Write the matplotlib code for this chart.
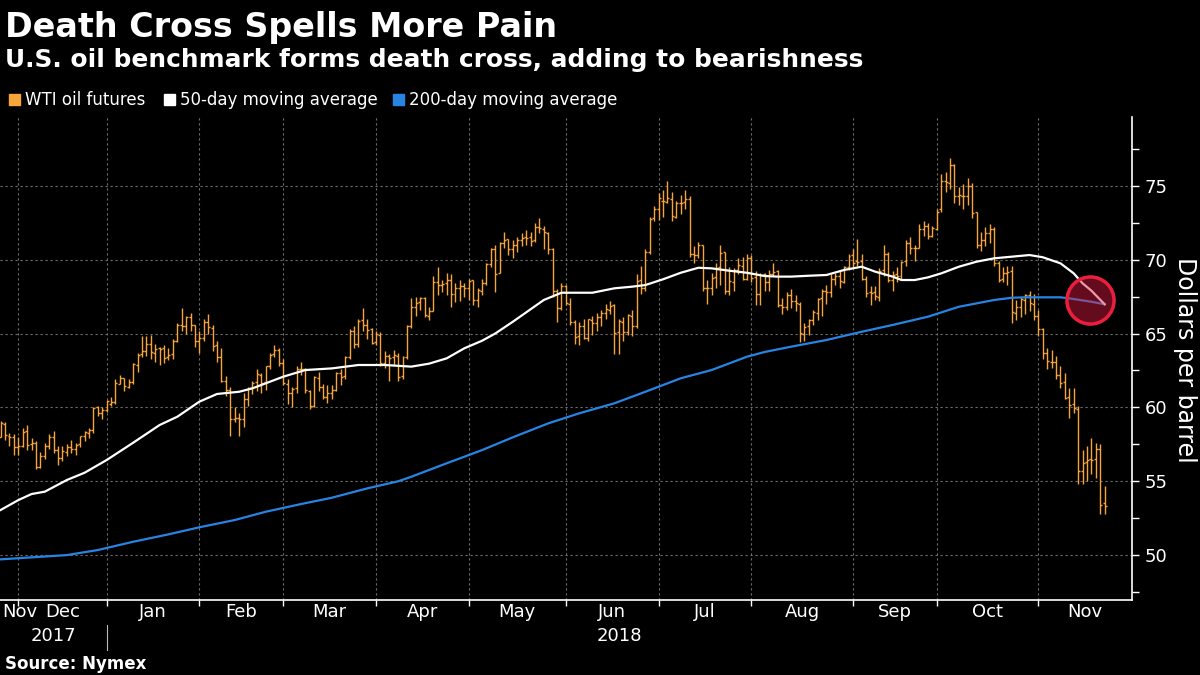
import numpy as np
import matplotlib
matplotlib.use('Agg')
from matplotlib import pyplot as plt
from matplotlib import transforms
from matplotlib.patches import Rectangle
from matplotlib.lines import Line2D
from matplotlib.ticker import MultipleLocator

# --- axis calendar: trading days per month shown (Nov 2017 starts on the 24th)
month_names = ['Nov', 'Dec', 'Jan', 'Feb', 'Mar', 'Apr', 'May', 'Jun',
               'Jul', 'Aug', 'Sep', 'Oct', 'Nov']
month_days = [5, 20, 21, 19, 21, 21, 22, 21, 21, 23, 19, 23, 21]
year_names = ['2017', '2018']

# --- WTI daily bars, one entry per trading day (Nov 24 2017 .. Nov 21 2018)
opens = [
    58.0, 58.9, 58.1, 58.0, 57.3,
    57.4, 58.4, 57.5, 57.6, 56.0, 56.7, 57.4, 58.0, 57.1, 56.6, 57.0, 57.3, 57.2, 57.5, 58.1, 58.3, 58.5, 60.0, 59.6, 59.8,
    60.2, 60.4, 61.6, 62.0, 61.4, 61.7, 62.9, 63.6, 63.8, 64.3, 63.7, 64.0, 64.0, 63.4, 63.6, 64.5, 65.6, 65.5, 66.1, 65.6, 64.5,
    64.7, 65.8, 65.4, 64.2, 63.4, 61.8, 61.2, 59.2, 59.3, 59.2, 60.6, 61.3, 61.7, 62.2, 61.7, 62.8, 63.6, 63.9, 63.0,
    61.6, 61.0, 61.3, 62.6, 62.6, 61.1, 60.1, 62.0, 61.4, 60.7, 61.0, 61.2, 62.3, 62.1, 63.4, 65.2, 64.3, 65.9, 65.6, 65.3, 64.4,
    64.9, 63.0, 63.5, 63.4, 63.5, 62.1, 63.4, 65.5, 66.8, 67.1, 67.4, 66.2, 66.5, 68.5, 68.3, 68.4, 68.6, 67.7, 68.1, 68.2, 68.1,
    68.6, 67.3, 67.9, 68.4, 69.7, 70.7, 69.1, 71.1, 71.4, 70.7, 71.0, 71.3, 71.5, 71.5, 71.3, 72.2, 72.1, 71.8, 70.7, 67.9, 66.7, 68.2,
    67.0, 65.8, 64.8, 65.5, 64.7, 65.9, 65.7, 66.1, 66.4, 66.6, 66.9, 65.1, 65.8, 65.1, 66.2, 65.5, 68.6, 68.1, 70.5, 72.8, 73.4,
    74.0, 73.9, 74.1, 72.9, 73.8, 73.9, 74.1, 70.4, 70.3, 71.0, 68.1, 68.1, 68.8, 69.5, 70.5, 67.9, 68.5, 69.3, 69.6, 68.7, 70.1,
    68.8, 67.7, 69.0, 68.5, 69.0, 69.2, 66.9, 66.8, 67.6, 67.2, 67.0, 65.0, 65.5, 65.9, 66.4, 67.4, 67.9, 67.8, 68.7, 68.9, 68.5, 69.5, 70.3,
    69.9, 69.9, 68.7, 67.8, 67.8, 67.5, 69.3, 70.4, 68.6, 69.0, 68.9, 69.9, 71.1, 70.8, 70.8, 72.1, 72.3, 71.6, 72.1,
    73.4, 75.3, 75.2, 76.4, 74.3, 74.3, 74.3, 75.0, 73.2, 71.0, 71.3, 71.8, 72.1, 69.8, 68.7, 69.1, 69.2, 66.4, 66.8, 67.3, 67.6, 67.0, 66.2,
    65.3, 63.7, 63.1, 63.1, 62.2, 61.7, 60.7, 60.2, 59.9, 55.7, 56.3, 56.5, 56.5, 57.2, 53.5,
]
highs = [
    59.05, 59.0, 58.3, 58.2, 58.0,
    58.6, 58.8, 57.9, 57.7, 57.0, 57.6, 58.2, 58.4, 57.4, 57.4, 57.5, 57.8, 57.6, 58.1, 58.4, 58.6, 60.0, 60.1, 60.0, 60.5,
    60.7, 61.9, 62.2, 62.0, 61.9, 63.0, 63.7, 64.8, 64.8, 64.9, 64.3, 64.1, 64.2, 64.0, 64.6, 65.7, 66.7, 66.2, 66.4, 65.6, 65.2,
    66.0, 66.3, 65.6, 64.5, 64.0, 62.1, 61.4, 60.0, 59.6, 61.0, 61.4, 61.8, 62.6, 62.3, 62.8, 63.7, 64.2, 64.0, 63.3,
    61.9, 61.4, 62.8, 63.1, 62.7, 61.2, 62.1, 62.4, 61.6, 61.5, 61.5, 62.4, 62.6, 63.5, 65.3, 65.5, 66.0, 66.7, 66.0, 65.4, 65.2,
    65.1, 63.8, 63.6, 63.9, 63.7, 63.5, 65.6, 67.4, 67.5, 67.5, 67.5, 66.8, 68.9, 69.5, 68.6, 69.1, 69.0, 68.4, 68.6, 68.4, 68.7,
    68.6, 68.1, 68.7, 69.8, 70.8, 71.0, 71.2, 71.9, 71.4, 71.3, 71.5, 71.8, 72.0, 71.9, 72.5, 72.8, 72.3, 71.9, 70.8, 68.0, 68.4, 68.3,
    67.4, 65.9, 65.8, 66.0, 66.0, 66.2, 66.4, 66.6, 67.0, 67.2, 67.0, 66.0, 66.1, 66.3, 66.6, 69.0, 69.6, 70.7, 72.9, 73.6, 74.5,
    74.7, 75.3, 74.6, 74.0, 74.4, 74.7, 74.3, 70.9, 71.2, 71.0, 68.6, 69.1, 69.8, 71.0, 70.5, 69.5, 69.4, 70.1, 70.2, 70.4, 70.3,
    69.2, 69.1, 69.1, 69.3, 69.8, 69.3, 67.4, 67.8, 68.0, 67.6, 67.1, 65.7, 66.0, 66.6, 67.4, 68.0, 68.3, 69.0, 69.1, 69.2, 69.6, 70.4, 70.7,
    71.4, 70.4, 68.9, 68.2, 68.2, 69.4, 71.0, 70.5, 69.2, 69.5, 69.9, 71.3, 71.5, 71.0, 72.4, 72.6, 72.5, 72.3, 73.4,
    75.8, 75.9, 76.9, 76.5, 74.9, 75.1, 75.5, 75.2, 73.2, 71.9, 72.2, 72.4, 72.2, 69.9, 69.5, 69.6, 69.6, 67.3, 67.5, 67.7, 67.9, 67.7, 66.6,
    65.4, 64.0, 63.9, 63.5, 62.8, 62.3, 61.3, 61.3, 60.1, 57.1, 57.4, 57.9, 57.6, 57.5, 54.7,
]
lows = [
    58.0, 57.8, 57.4, 56.8, 56.8,
    57.3, 57.1, 57.1, 55.8, 55.9, 56.5, 57.2, 56.9, 56.1, 56.4, 56.7, 56.9, 56.8, 57.3, 57.7, 57.9, 58.3, 59.4, 59.2, 59.7,
    60.1, 60.2, 61.6, 61.1, 61.3, 61.6, 62.4, 63.4, 63.5, 63.3, 63.1, 62.9, 63.0, 63.2, 63.3, 64.4, 65.2, 65.0, 65.2, 64.1, 63.7,
    64.5, 65.0, 63.8, 63.1, 61.7, 60.8, 58.07, 59.0, 58.07, 58.7, 60.1, 60.9, 61.1, 61.0, 61.2, 62.6, 63.4, 62.8, 61.5,
    60.2, 60.0, 61.0, 62.2, 61.0, 59.9, 60.0, 61.1, 60.6, 60.3, 60.6, 61.1, 61.5, 61.9, 63.3, 64.0, 64.1, 65.2, 64.6, 64.3, 64.2,
    62.8, 62.7, 61.8, 62.9, 61.8, 61.9, 63.3, 65.4, 66.2, 66.6, 66.1, 65.9, 66.5, 67.6, 67.8, 67.6, 66.8, 67.1, 67.2, 67.5, 67.3,
    66.9, 66.8, 67.6, 68.3, 69.5, 67.8, 69.1, 70.8, 70.3, 70.1, 70.5, 70.9, 71.0, 70.9, 71.2, 71.8, 70.7, 70.4, 67.5, 65.8, 66.6, 66.9,
    65.6, 64.3, 64.2, 64.6, 64.5, 64.9, 65.2, 65.5, 66.0, 66.3, 63.6, 63.6, 64.5, 64.9, 64.8, 65.4, 67.7, 67.9, 70.4, 72.6, 72.7,
    72.9, 73.8, 72.6, 72.8, 73.1, 73.4, 70.2, 69.8, 70.1, 67.9, 67.0, 67.6, 68.1, 68.3, 67.7, 67.6, 67.9, 69.0, 68.6, 68.6, 68.5,
    66.9, 66.9, 67.9, 67.9, 68.9, 66.8, 66.3, 66.6, 66.7, 66.5, 64.4, 64.5, 64.9, 65.6, 65.9, 66.2, 67.0, 67.5, 68.3, 68.1, 68.4, 69.3, 69.5,
    69.6, 68.6, 67.5, 66.9, 67.3, 67.2, 68.9, 68.5, 67.9, 68.5, 68.6, 69.6, 70.4, 69.9, 70.8, 71.6, 71.4, 71.5, 72.0,
    73.2, 74.6, 74.8, 73.8, 73.7, 73.4, 73.7, 72.8, 70.8, 70.6, 70.9, 71.1, 69.6, 68.5, 68.5, 68.3, 65.7, 65.9, 66.1, 66.3, 66.5, 65.9, 64.8,
    63.3, 62.6, 62.7, 61.9, 61.3, 60.6, 59.3, 59.6, 54.8, 54.8, 55.0, 55.5, 55.2, 52.8, 52.8,
]
closes = [
    58.95, 58.11, 57.99, 57.30, 57.40,
    58.36, 57.47, 57.62, 55.96, 56.69, 57.36, 57.99, 57.14, 56.60, 57.04, 57.30, 57.16, 57.46, 58.09, 58.36, 58.47, 59.97, 59.64, 59.84, 60.42,
    60.37, 61.63, 62.01, 61.44, 61.73, 62.96, 63.57, 63.80, 64.30, 63.73, 63.97, 63.95, 63.37, 63.57, 64.47, 65.61, 65.51, 66.14, 65.56, 64.50, 64.73,
    65.80, 65.45, 64.15, 63.39, 61.79, 61.15, 59.20, 59.29, 59.19, 60.60, 61.34, 61.68, 62.23, 61.68, 62.77, 63.55, 63.91, 63.01, 61.64,
    60.99, 61.25, 62.57, 62.60, 61.15, 60.12, 62.04, 61.36, 60.71, 60.96, 61.19, 62.34, 62.06, 63.40, 65.17, 64.30, 65.88, 65.55, 65.25, 64.38, 64.94,
    63.01, 63.51, 63.37, 63.54, 62.06, 63.42, 65.51, 66.82, 67.07, 67.39, 66.22, 66.52, 68.47, 68.29, 68.38, 68.64, 67.70, 68.05, 68.19, 68.10, 68.57,
    67.25, 67.93, 68.43, 69.72, 70.73, 69.06, 71.14, 71.36, 70.70, 70.96, 71.31, 71.49, 71.49, 71.28, 72.24, 72.13, 71.84, 70.71, 67.88, 66.73, 68.21, 67.04,
    65.81, 64.75, 65.52, 64.73, 65.95, 65.74, 66.10, 66.36, 66.64, 66.89, 65.06, 65.85, 65.07, 66.22, 65.54, 68.58, 68.08, 70.53, 72.76, 73.45, 74.15,
    73.94, 74.14, 72.94, 73.80, 73.85, 74.11, 70.38, 70.33, 71.01, 68.06, 68.08, 68.76, 69.46, 70.46, 67.89, 68.52, 69.30, 69.61, 68.69, 70.13, 68.76,
    67.66, 68.96, 68.49, 69.01, 69.17, 66.94, 66.81, 67.63, 67.20, 67.04, 65.01, 65.46, 65.91, 66.43, 67.35, 67.86, 67.83, 68.72, 68.87, 68.53, 69.51, 70.25, 69.80,
    69.87, 68.72, 67.77, 67.75, 67.54, 69.25, 70.37, 68.59, 68.99, 68.91, 69.85, 71.12, 70.80, 70.78, 72.08, 72.28, 71.57, 72.12, 73.25,
    75.30, 75.23, 76.41, 74.33, 74.34, 74.29, 74.96, 73.17, 70.97, 71.34, 71.78, 72.09, 69.75, 68.65, 69.12, 69.17, 66.43, 66.82, 67.33, 67.59, 67.04, 66.18, 65.31,
    63.69, 63.14, 63.10, 62.21, 61.67, 60.67, 60.19, 59.93, 55.69, 56.25, 56.46, 56.46, 57.20, 53.43, 53.35,
]

# --- moving averages (trading-day index, value)
ma50_day = [0, 4, 7, 10, 15, 19, 24, 30, 36, 40, 45, 49, 54, 57, 64, 69, 75, 81, 87, 93,
            97, 101, 105, 109, 112, 116, 120, 123, 127, 134, 139, 143, 146, 150, 154, 158,
            161, 165, 169, 173, 176, 179, 183, 187, 191, 195, 198, 202, 204, 207, 210, 213,
            217, 221, 225, 229, 233, 236, 240, 243, 245, 247, 250]
ma50_val = [53.06, 53.73, 54.14, 54.30, 55.09, 55.58, 56.44, 57.61, 58.81, 59.37, 60.39, 60.91,
            61.06, 61.29, 62.08, 62.53, 62.64, 62.87, 62.87, 62.76, 62.96, 63.32, 64.00, 64.51,
            65.00, 65.80, 66.64, 67.27, 67.76, 67.76, 68.06, 68.17, 68.28, 68.67, 69.11, 69.45,
            69.41, 69.25, 69.11, 68.89, 68.85, 68.85, 68.91, 68.96, 69.30, 69.52, 69.19, 68.85,
            68.62, 68.62, 68.80, 69.07, 69.52, 69.86, 70.09, 70.20, 70.31, 70.16, 69.75, 69.07,
            68.40, 67.90, 66.98]
ma200_day = [0, 15, 22, 30, 38, 45, 53, 60, 68, 75, 83, 90, 93, 101, 109, 116, 124, 131, 139,
             146, 154, 161, 169, 173, 179, 187, 195, 202, 210, 217, 225, 229, 232, 240, 242, 247, 250]
ma200_val = [49.72, 50.01, 50.35, 50.91, 51.41, 51.89, 52.38, 52.94, 53.46, 53.89, 54.52, 55.00,
             55.31, 56.22, 57.11, 57.98, 58.92, 59.60, 60.28, 61.06, 61.97, 62.53, 63.43, 63.75,
             64.11, 64.56, 65.12, 65.58, 66.14, 66.81, 67.27, 67.42, 67.45, 67.45, 67.38, 67.15, 66.98]

# where the 50-day crosses below the 200-day
cross_day = 246.7
cross_price = 67.27

ORANGE = '#f7a53b'
BLUE = '#2784e3'
GRID = '#6e6e6e'
W, H = 1200, 675

fig = plt.figure(figsize=(12, 6.75), dpi=100, facecolor='black')
ax = fig.add_axes([0, 1 - 600 / H, 1132 / W, (600 - 117) / H])
ax.set_facecolor('black')

x = np.arange(len(closes))
ax.vlines(x, lows, highs, color=ORANGE, lw=1.0, zorder=3)
ax.hlines(opens, x - 0.45, x, color=ORANGE, lw=1.0, zorder=3)
ax.hlines(closes, x, x + 0.45, color=ORANGE, lw=1.0, zorder=3)

ax.plot(ma200_day, ma200_val, color=BLUE, lw=1.6, zorder=4)
ax.plot(ma50_day, ma50_val, color='white', lw=1.6, zorder=4)
ax.scatter([cross_day], [cross_price], s=1150, facecolor=(0.875, 0.11, 0.255, 0.45),
           edgecolor='#ea1f3d', linewidth=2.5, zorder=5)

# month boundaries sit on the last trading day of each month
bounds = np.cumsum(month_days) - 1
ax.set_xlim(-0.15, 256.2)
ax.set_ylim(46.97, 79.65)

ax.set_xticks(bounds[:-1])
ax.set_xticklabels([])
ax.tick_params(axis='x', direction='out', length=4, width=1, color='white')

ax.yaxis.tick_right()
ax.yaxis.set_major_locator(MultipleLocator(5))
ax.yaxis.set_minor_locator(MultipleLocator(2.5))
ax.set_yticks([50, 55, 60, 65, 70, 75])
ax.tick_params(axis='y', which='both', direction='out', length=5, width=1,
               color='white', labelcolor='white', labelsize=13, pad=4)

ax.grid(True, which='major', color=GRID, linestyle=(0, (2, 2.5)), lw=0.8)
ax.set_axisbelow(True)

for s in ['left', 'top']:
    ax.spines[s].set_visible(False)
for s in ['bottom', 'right']:
    ax.spines[s].set_color('white')
    ax.spines[s].set_linewidth(1.2)

# month and year labels under the axis
trans = transforms.blended_transform_factory(ax.transData, fig.transFigure)
edges = np.concatenate([[-0.15], bounds])
for i, name in enumerate(month_names):
    if i == 0:
        ax.text(edges[0] + 0.4, 1 - 612 / H, name, transform=trans, ha='left',
                va='center', color='white', fontsize=13)
    else:
        ax.text((edges[i] + edges[i + 1]) / 2, 1 - 612 / H, name, transform=trans,
                ha='center', va='center', color='white', fontsize=13)
ax.text((edges[0] + edges[2]) / 2, 1 - 636 / H, year_names[0], transform=trans,
        ha='center', va='center', color='white', fontsize=13)
ax.text((edges[2] + edges[-1]) / 2, 1 - 636 / H, year_names[1], transform=trans,
        ha='center', va='center', color='white', fontsize=13)
sep = Line2D([edges[2], edges[2]], [1 - 625 / H, 1 - 650 / H], transform=trans,
             color='#bbbbbb', lw=0.8, clip_on=False)
ax.add_line(sep)

fig.text(1185 / W, 1 - 360 / H, 'Dollars per barrel', rotation=270, ha='center',
         va='center', color='white', fontsize=17)

# titles
fig.text(5 / W, 1 - 37 / H, 'Death Cross Spells More Pain', color='white',
         fontsize=24, fontweight='bold', va='baseline')
fig.text(5 / W, 1 - 67 / H, 'U.S. oil benchmark forms death cross, adding to bearishness',
         color='white', fontsize=17.9, fontweight='bold', va='baseline')

# legend
legend_items = [('WTI oil futures', ORANGE, 9), ('50-day moving average', 'white', 164),
                ('200-day moving average', BLUE, 393)]
for label, col, px in legend_items:
    fig.add_artist(Rectangle((px / W, 1 - 105 / H), 11 / W, 11 / H,
                             transform=fig.transFigure, color=col))
    fig.text((px + 16) / W, 1 - 100 / H, label, color='white', fontsize=12, va='center')

fig.text(5 / W, 1 - 669 / H, 'Source: Nymex', color='white', fontsize=12,
         fontweight='bold', va='baseline')

fig.savefig('out.png', dpi=100, facecolor='black')
